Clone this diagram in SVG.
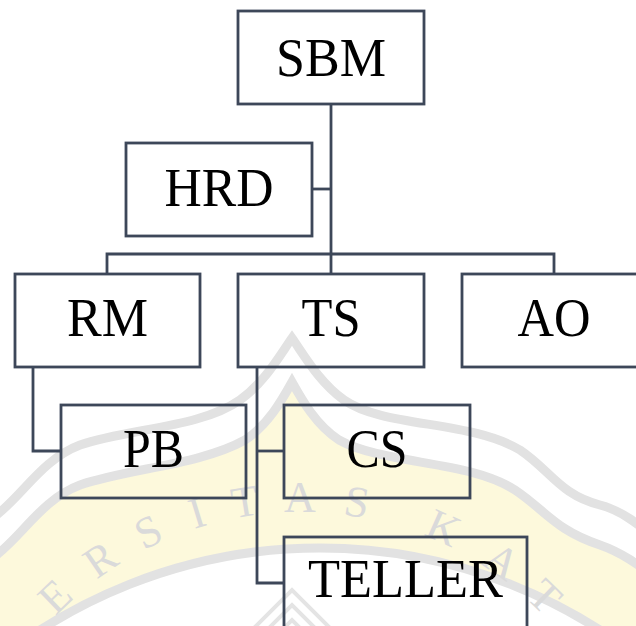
<svg xmlns="http://www.w3.org/2000/svg" width="636" height="626" viewBox="0 0 636 626">
<style>
.box{fill:none;stroke:#3d4759;stroke-width:2.8}
.lbl{font-family:"Liberation Serif","Times New Roman",serif;font-size:55px;fill:#000;text-anchor:middle}
.conn{fill:none;stroke:#3d4759;stroke-width:2.8}
.wmb{stroke:#e2e2e2;stroke-width:9}
.wml{font-family:"Liberation Serif","Times New Roman",serif;font-size:44px;fill:#dadada;text-anchor:middle}
</style>
<rect width="636" height="626" fill="#fff"/>
<g id="watermark">
<path class="wmb" fill="#fff" d="M -10,520 C 20,500 40,460 80,445 C 130,428 200,428 240,400 C 265,382 280,355 292,338 C 304,355 319,382 344,400 C 384,428 470,420 520,450 C 550,470 560,495 600,505 C 620,510 640,525 650,535 L 650,660 L -10,660 Z"/>
<path class="wmb" fill="#fdf9dc" d="M -10,560 C 20,540 40,500 80,485 C 130,468 200,465 245,440 C 268,425 282,400 292,382 C 302,400 316,425 339,440 C 384,465 470,460 515,490 C 545,510 555,530 600,545 C 620,552 640,565 650,575 L 650,660 L -10,660 Z"/>
<circle class="wmb" fill="#fff" cx="320" cy="1066" r="518"/>
<g fill="none" stroke="#e4e4e4" stroke-width="4">
<path d="M 222,660 L 292,590 L 362,660"/>
<path d="M 232,665 L 292,605 L 352,665"/>
<path d="M 242,670 L 292,620 L 342,670"/>
</g>
<g class="wml">
<text x="300" y="512" transform="rotate(-44 300 850)">E</text>
<text x="300" y="512" transform="rotate(-34.5 300 850)">R</text>
<text x="300" y="512" transform="rotate(-25.5 300 850)">S</text>
<text x="300" y="512" transform="rotate(-17 300 850)">I</text>
<text x="300" y="512" transform="rotate(-9 300 850)">T</text>
<text x="300" y="512" transform="rotate(0 300 850)">A</text>
<text x="300" y="512" transform="rotate(9.3 300 850)">S</text>
<text x="300" y="512" transform="rotate(24 300 850)">K</text>
<text x="300" y="512" transform="rotate(35 300 850)">A</text>
<text x="300" y="512" transform="rotate(44 300 850)">T</text>
</g>
</g>
<g id="connectors">
<path class="conn" d="M 331,104 V 274"/>
<path class="conn" d="M 312,189 H 331"/>
<path class="conn" d="M 107,274 V 254 H 554 V 274"/>
<path class="conn" d="M 33,367 V 451 H 61"/>
<path class="conn" d="M 257,367 V 583 H 284"/>
<path class="conn" d="M 257,451 H 284"/>
</g>
<g id="SBM"><rect class="box" x="238" y="11" width="186" height="93"/><text class="lbl" x="331" y="76" textLength="110" lengthAdjust="spacingAndGlyphs">SBM</text></g>
<g id="HRD"><rect class="box" x="126" y="143" width="186" height="93"/><text class="lbl" x="219" y="206" textLength="109" lengthAdjust="spacingAndGlyphs">HRD</text></g>
<g id="RM"><rect class="box" x="15" y="274" width="185" height="93"/><text class="lbl" x="107.5" y="336" textLength="81" lengthAdjust="spacingAndGlyphs">RM</text></g>
<g id="TS"><rect class="box" x="238" y="274" width="186" height="93"/><text class="lbl" x="331" y="336" textLength="59" lengthAdjust="spacingAndGlyphs">TS</text></g>
<g id="AO"><rect class="box" x="462" y="274" width="185" height="93"/><text class="lbl" x="554" y="336" textLength="73" lengthAdjust="spacingAndGlyphs">AO</text></g>
<g id="PB"><rect class="box" x="61" y="405" width="185" height="93"/><text class="lbl" x="153.5" y="467" textLength="61" lengthAdjust="spacingAndGlyphs">PB</text></g>
<g id="CS"><rect class="box" x="284" y="405" width="186" height="93"/><text class="lbl" x="377" y="467" textLength="61" lengthAdjust="spacingAndGlyphs">CS</text></g>
<g id="TELLER"><rect class="box" x="284" y="537" width="243" height="93"/><text class="lbl" x="405.5" y="597" textLength="195" lengthAdjust="spacingAndGlyphs">TELLER</text></g>
</svg>
